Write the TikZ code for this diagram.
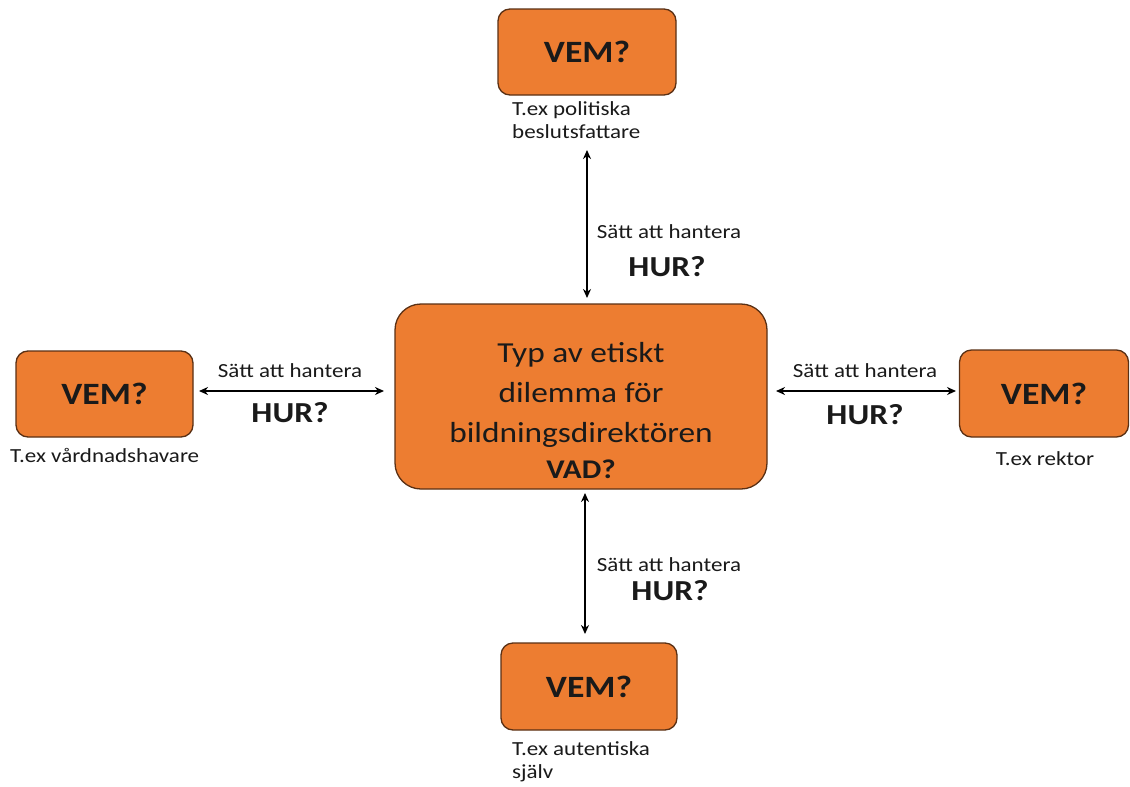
\documentclass[tikz,border=0pt]{standalone}
\usepackage{fontspec}
\setmainfont[FakeStretch=1.15]{Carlito}
\usetikzlibrary{arrows.meta}
\definecolor{boxfill}{HTML}{ED7D31}
\definecolor{boxline}{HTML}{5A3014}
\definecolor{txt}{HTML}{1A1A1A}
\tikzset{
  vembox/.style={draw=boxline, line width=1.3pt, fill=boxfill, rounded corners=12pt, inner sep=0pt, font=\fontsize{31}{34}\selectfont\bfseries, text=txt},
  mainbox/.style={draw=boxline, line width=1.3pt, fill=boxfill, rounded corners=26pt, inner sep=0pt, text=txt},
  small/.style={font=\fontsize{20}{23}\selectfont, text=txt, inner sep=0pt},
  hur/.style={font=\fontsize{29}{32}\selectfont\bfseries, text=txt, inner sep=0pt},
  link/.style={line width=1.8pt, {Stealth[length=9pt,width=8pt]}-{Stealth[length=9pt,width=8pt]}},
}
\begin{document}
\begin{tikzpicture}[x=1pt,y=-1pt]
\useasboundingbox[fill=white] (0,0) rectangle (1130,787);
% boxes
\node[vembox, minimum width=178pt, minimum height=86pt] (top) at (587,52) {VEM?};
\node[vembox, minimum width=177pt, minimum height=86pt] (left) at (104.5,394) {VEM?};
\node[vembox, minimum width=169pt, minimum height=87pt] (right) at (1044,393.5) {VEM?};
\node[vembox, minimum width=176pt, minimum height=87pt] (bottom) at (589,686.5) {VEM?};
\node[mainbox, minimum width=372pt, minimum height=185pt] (center) at (581,396.5) {};
\node[align=center, text=txt, inner sep=0pt, font=\fontsize{29}{40}\selectfont, anchor=base] (ctext) at (581,442)
  {Typ av etiskt\\dilemma för\\bildningsdirektören};
\node[hur, anchor=base, font=\fontsize{27}{30}\selectfont\bfseries] (vad) at (581,478) {VAD?};
% captions
\node[small, align=left, anchor=base west] (captop) at (512,138) {T.ex politiska\\beslutsfattare};
\node[small, anchor=base west] (capleft) at (10,462) {T.ex vårdnadshavare};
\node[small, anchor=base] (capright) at (1045,465) {T.ex rektor};
\node[small, align=left, anchor=base west] (capbot) at (512,778) {T.ex autentiska\\själv};
% arrow end points
\coordinate (ta) at (587,150);
\coordinate (tb) at (587,298);
\coordinate (ba) at (585,493);
\coordinate (bb) at (585,634);
\coordinate (la) at (199,391);
\coordinate (lb) at (384,391);
\coordinate (ra) at (776,391);
\coordinate (rb) at (956,391);
\draw[link] (ta) -- (tb);
\draw[link] (ba) -- (bb);
\draw[link] (la) -- (lb);
\draw[link] (ra) -- (rb);
% labels
\node[small, anchor=base] (stop) at (669,238) {Sätt att hantera};
\node[hur, anchor=base] (htop) at (667,276) {HUR?};
\node[small, anchor=base] (sleft) at (290,377) {Sätt att hantera};
\node[hur, anchor=base] (hleft) at (290,422) {HUR?};
\node[small, anchor=base] (sright) at (865,377) {Sätt att hantera};
\node[hur, anchor=base] (hright) at (865,424) {HUR?};
\node[small, anchor=base] (sbot) at (669,571) {Sätt att hantera};
\node[hur, anchor=base] (hbot) at (670,600) {HUR?};
\end{tikzpicture}
\end{document}
